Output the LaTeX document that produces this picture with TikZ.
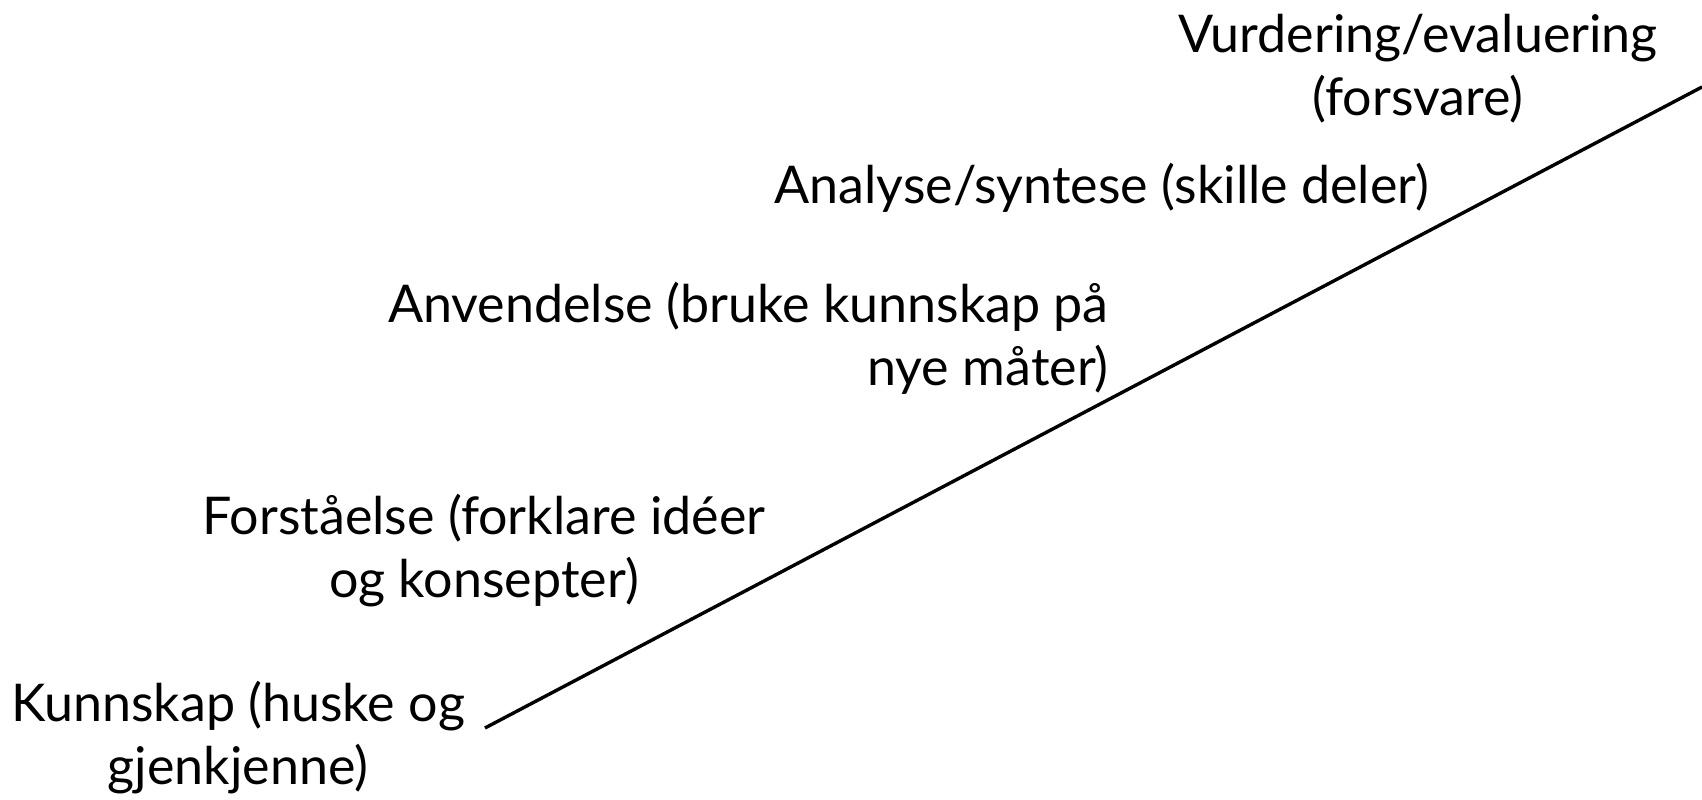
\documentclass[tikz,border=0pt]{standalone}
\usepackage{fontspec}
\setmainfont{Lato}
\usetikzlibrary{positioning}

\begin{document}
\begin{tikzpicture}[
            x = 1pt, y = 1pt, % one unit per pixel
            semithick
        ]

        \tikzstyle{level}=[
            inner sep = 0pt,
            font = \fontsize{52}{63}\selectfont
        ]

        \useasboundingbox (0,0) rectangle (1702,800);

        % anchor=base sits on the last line
        \node[level, align=center, anchor=base] (vurd) at (1418,684) {Vurdering/evaluering\\(forsvare)};
        \node[level, anchor=base] (analyse) at (1102,596) {Analyse/syntese (skille deler)};
        \node[level, align=right, anchor=base east] (anvend) at (1109,414) {Anvendelse (bruke kunnskap på\\nye måter)};
        \node[level, align=center, anchor=base] (forst) at (484,202) {Forståelse (forklare idéer\\og konsepter)};
        \node[level, align=center, anchor=base] (kunn) at (238,15) {Kunnskap (huske og\\gjenkjenne)};

        \coordinate (lo) at (485,72);
        \coordinate (hi) at (1702,713);
        \draw[line width=3.4pt] (lo) -- (hi);

    \end{tikzpicture}
\end{document}
